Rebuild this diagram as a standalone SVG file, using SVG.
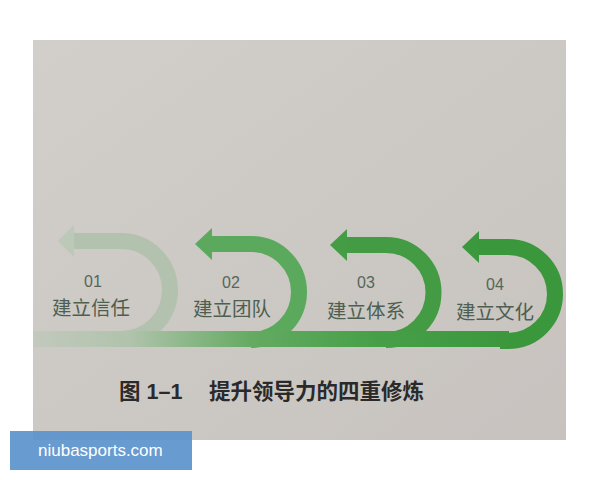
<svg xmlns="http://www.w3.org/2000/svg" width="600" height="480" viewBox="0 0 600 480">
  <defs>
    <linearGradient id="paper" x1="0" y1="0" x2="1" y2="1">
      <stop offset="0" stop-color="#d2cfca"/>
      <stop offset="0.6" stop-color="#cbc8c3"/>
      <stop offset="1" stop-color="#c8c2bf"/>
    </linearGradient>
    <linearGradient id="band" gradientUnits="userSpaceOnUse" x1="33" y1="0" x2="520" y2="0">
      <stop offset="0" stop-color="#c2c9be"/>
      <stop offset="0.2" stop-color="#b0c3ab"/>
      <stop offset="0.45" stop-color="#64aa62"/>
      <stop offset="0.7" stop-color="#47a048"/>
      <stop offset="1" stop-color="#3b963c"/>
    </linearGradient>
    <style>
      .loop { fill: none; stroke-width: 16; }
      .num { font-family: "Liberation Sans", "Noto Sans CJK SC", sans-serif; font-size: 16px; fill: #55665a; text-anchor: middle; }
      .lbl { font-family: "Liberation Sans", "Noto Sans CJK SC", sans-serif; font-size: 19.5px; fill: #4e5f52; text-anchor: middle; }
      .cap { font-family: "Liberation Sans", "Noto Sans CJK SC", sans-serif; font-size: 21.5px; font-weight: bold; fill: #2b2a2a; }
    </style>
  </defs>
  <rect width="600" height="480" fill="#ffffff"/>
  <rect x="33" y="40" width="533" height="400" fill="url(#paper)"/>

  <g id="step1">
    <path class="loop" stroke="#b3c2af" d="M72,241 H121 A49,49 0 0 1 121,339"/>
    <polygon points="58,241 74,225 74,257" fill="#bcc8b8"/>
    <text class="num" x="93" y="287">01</text>
    <text class="lbl" x="91" y="315">建立信任</text>
  </g>
  <g id="step2">
    <path class="loop" stroke="#5ba95c" d="M210,244 H251 A48,48 0 0 1 251,340"/>
    <polygon points="195,244 212,228 212,260" fill="#5ca95d"/>
    <text class="num" x="231" y="288">02</text>
    <text class="lbl" x="232" y="316">建立团队</text>
  </g>
  <g id="step3">
    <path class="loop" stroke="#439b44" d="M345,245 H386 A47.5,47.5 0 0 1 386,340"/>
    <polygon points="330,245 347,229 347,261" fill="#449c45"/>
    <text class="num" x="366" y="288">03</text>
    <text class="lbl" x="366" y="318">建立体系</text>
  </g>
  <g id="step4">
    <path class="loop" stroke="#3b973c" d="M477,247 H508 A47,47 0 0 1 508,341 H500"/>
    <polygon points="462,247 479,231 479,263" fill="#3c983d"/>
    <text class="num" x="495" y="290">04</text>
    <text class="lbl" x="495" y="319">建立文化</text>
  </g>

  <g id="connectors">
    <rect x="33" y="331" width="476" height="16" fill="url(#band)"/>
  </g>

  <g id="caption">
    <text class="cap" x="119" y="399">图 1–1</text>
    <text class="cap" x="209" y="399">提升领导力的四重修炼</text>
  </g>

  <g id="watermark">
    <rect x="10" y="431" width="182" height="39" fill="#5b93cc" fill-opacity="0.92"/>
    <text x="38" y="456" font-family="Liberation Sans, Arial, sans-serif" font-size="17" fill="#ffffff">niubasports.com</text>
  </g>
</svg>
